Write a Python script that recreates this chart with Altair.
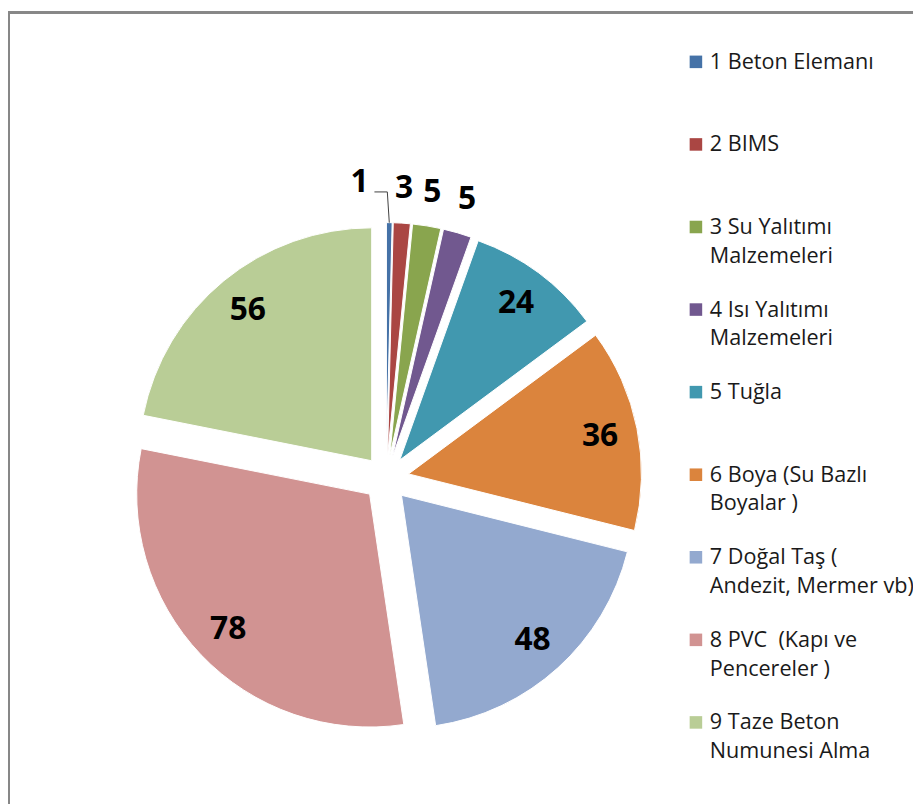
import altair as alt
import pandas as pd

# ---- data ----
categories = [
    "1 Beton Elemanı",
    "2 BIMS",
    "3 Su Yalıtımı|Malzemeleri",
    "4 Isı Yalıtımı|Malzemeleri",
    "5 Tuğla",
    "6 Boya (Su Bazlı|Boyalar )",
    "7 Doğal Taş (|Andezit, Mermer vb)",
    "8 PVC \u00a0(Kapı ve|Pencereler )",
    "9 Taze Beton|Numunesi Alma",
]
values = [1, 3, 5, 5, 24, 36, 48, 78, 56]
colors = ["#4572A7", "#AA4643", "#89A54E", "#71588F", "#4198AF",
          "#DB843D", "#93A9CF", "#D19392", "#B9CD96"]

df = pd.DataFrame({"idx": list(range(len(values))), "cat": categories, "value": values})

# ---- layout constants ----
W, H = 913, 799
CX, CY = 381.5, 471
R = 235
EXPLODE = 23
LABEL_R_IN = 197
LABEL_R_OUT = 270
LEG_X_SQ, LEG_X_TX = 694, 708
LEG_Y0, LEG_STEP = 50.8, 83.3
FONT = "Open Sans"

color = alt.Color("cat:N", scale=alt.Scale(domain=categories, range=colors), legend=None)
noscale = dict(scale=None, axis=None)

base = (
    alt.Chart(df)
    .transform_window(cum="sum(value)", sort=[alt.SortField("idx")], frame=[None, 0])
    .transform_joinaggregate(total="sum(value)")
    .transform_calculate(
        start="datum.cum - datum.value",
        mid="(datum.cum - datum.value / 2) / datum.total * 2 * PI",
    )
    .transform_calculate(
        px=f"{CX} + {EXPLODE} * sin(datum.mid)",
        py=f"{CY} - {EXPLODE} * cos(datum.mid)",
    )
)

arcs = base.mark_arc(radius=R, stroke="white", strokeWidth=1).encode(
    x=alt.X("px:Q", **noscale),
    y=alt.Y("py:Q", **noscale),
    theta=alt.Theta("start:Q", stack=None, scale=alt.Scale(domain=[0, sum(values)])),
    theta2="cum:Q",
    color=color,
)

label_style = dict(font=FONT, fontSize=32, fontWeight="bold", color="black",
                   align="center", baseline="middle")

inside = (
    base.transform_filter("datum.value >= 10")
    .transform_calculate(
        lx=f"datum.px + {LABEL_R_IN} * sin(datum.mid)",
        ly=f"datum.py - {LABEL_R_IN} * cos(datum.mid)",
    )
    .mark_text(**label_style)
    .encode(x=alt.X("lx:Q", **noscale), y=alt.Y("ly:Q", **noscale), text="value:Q")
)

outside = (
    base.transform_filter("datum.value < 10 && datum.idx > 0")
    .transform_calculate(
        lx=f"datum.px + {LABEL_R_OUT} * sin(datum.mid)",
        ly=f"datum.py - {LABEL_R_OUT} * cos(datum.mid)",
    )
    .mark_text(**label_style)
    .encode(x=alt.X("lx:Q", **noscale), y=alt.Y("ly:Q", **noscale), text="value:Q")
)

# first tiny slice: label pushed aside with a leader line
first = base.transform_filter("datum.idx == 0").transform_calculate(
    ex=f"datum.px + {R} * sin(datum.mid)",
    ey=f"datum.py - {R} * cos(datum.mid)",
).transform_calculate(
    bx="datum.ex - 2", by="datum.ey - 31", hx="datum.ex - 15",
    tx="datum.ex - 30", ty="datum.ey - 41",
)
lead1 = first.mark_rule(color="#404040", strokeWidth=1).encode(
    x=alt.X("ex:Q", **noscale), y=alt.Y("ey:Q", **noscale), x2="bx:Q", y2="by:Q"
)
lead2 = first.mark_rule(color="#404040", strokeWidth=1).encode(
    x=alt.X("bx:Q", **noscale), y=alt.Y("by:Q", **noscale), x2="hx:Q", y2="by:Q"
)
first_label = first.mark_text(**label_style).encode(
    x=alt.X("tx:Q", **noscale), y=alt.Y("ty:Q", **noscale), text="value:Q"
)

# legend drawn by hand
leg = alt.Chart(df).transform_calculate(ly=f"{LEG_Y0} + {LEG_STEP} * datum.idx")
leg_sq = leg.mark_square(size=160, opacity=1).encode(
    x=alt.value(LEG_X_SQ), y=alt.Y("ly:Q", **noscale), color=color
)
leg_tx = leg.transform_calculate(ty="datum.ly - 10").mark_text(
    font=FONT, fontSize=21.8, color="#1a1a1a", align="left", baseline="top",
    lineBreak="|", lineHeight=29,
).encode(x=alt.value(LEG_X_TX), y=alt.Y("ty:Q", **noscale), text="cat:N")

# chart border (top and left visible in the reference)
border_top = alt.Chart(df).mark_rule(color="#878787", strokeWidth=2).encode(
    x=alt.value(0), x2=alt.value(W), y=alt.value(1)
)
border_left = alt.Chart(df).mark_rule(color="#878787", strokeWidth=2).encode(
    x=alt.value(1), y=alt.value(0), y2=alt.value(H)
)

chart = (
    alt.layer(arcs, inside, outside, lead1, lead2, first_label, leg_sq, leg_tx,
              border_top, border_left)
    .properties(width=W, height=H, autosize=alt.AutoSizeParams(type="none"), padding=0)
    .configure_view(stroke=None)
)

chart.save("out.html", embed_options={"renderer": "svg", "actions": False})
